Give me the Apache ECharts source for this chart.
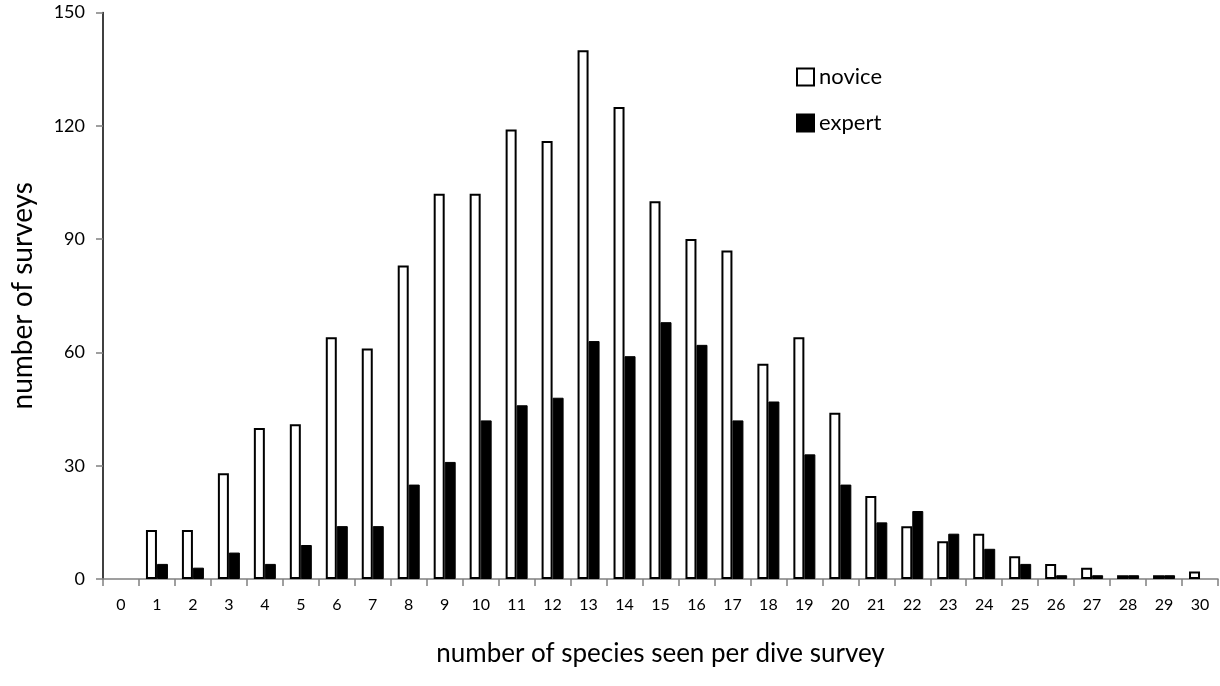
<!DOCTYPE html>
<html><head><meta charset="utf-8">
<script src="https://cdn.jsdelivr.net/npm/echarts@6/dist/echarts.min.js"></script>
<style>html,body{margin:0;padding:0;background:#fff}#c{width:1220px;height:686px}</style>
</head><body><div id="c"></div>
<script>
const categories = ['0','1','2','3','4','5','6','7','8','9','10','11','12','13','14','15','16','17','18','19','20','21','22','23','24','25','26','27','28','29','30'];
const novice = [0,13,13,28,40,41,64,61,83,102,102,119,116,140,125,100,90,87,57,64,44,22,14,10,12,6,4,3,1,1,2];
const expert = [0,4,3,7,4,9,14,14,25,31,42,46,48,63,59,68,62,42,47,33,25,15,18,12,8,4,1,1,1,1,0];
const yTicks = [0,30,60,90,120,150];

const font = 'Lato, "Open Sans", sans-serif';
const noZero = arr => arr.map(v => v === 0 ? null : v);
const chart = echarts.init(document.getElementById('c'), null, {renderer:'canvas'});
chart.setOption({
  animation:false,
  backgroundColor:'#fff',
  grid:{left:103,right:2,top:12.5,bottom:107},
  legend:{
    orient:'vertical', left:791, top:61, itemWidth:17, itemHeight:17, itemGap:24, icon:'rect',
    textStyle:{fontFamily:font,fontSize:22,color:'#000'},
    data:['novice','expert']
  },
  xAxis:{
    type:'category', data:categories,
    axisLine:{lineStyle:{color:'#808080',width:1.5}},
    axisTick:{show:true,length:7,lineStyle:{color:'#808080',width:1.5}},
    axisLabel:{fontFamily:font,fontSize:16,color:'#000',margin:18},
    name:'number of species seen per dive survey', nameLocation:'middle', nameGap:62,
    nameTextStyle:{fontFamily:font,fontSize:26,color:'#000'}
  },
  yAxis:{
    type:'value', min:yTicks[0], max:yTicks[yTicks.length-1], interval:30,
    splitLine:{show:false},
    axisLine:{show:true,lineStyle:{color:'#000',width:1.5}},
    axisTick:{show:true,length:7,lineStyle:{color:'#808080',width:1.5}},
    axisLabel:{fontFamily:font,fontSize:18,color:'#000',margin:18},
    name:'number of surveys', nameLocation:'middle', nameGap:66,
    nameTextStyle:{fontFamily:font,fontSize:28,color:'#000'}
  },
  series:[
    {name:'novice',type:'bar',data:noZero(novice),barWidth:11,barGap:'0%',
     itemStyle:{color:'#fff',borderColor:'#000',borderWidth:2}},
    {name:'expert',type:'bar',data:noZero(expert),barWidth:11,barGap:'0%',
     itemStyle:{color:'#000',borderColor:'#000',borderWidth:1}}
  ]
});
</script></body></html>
